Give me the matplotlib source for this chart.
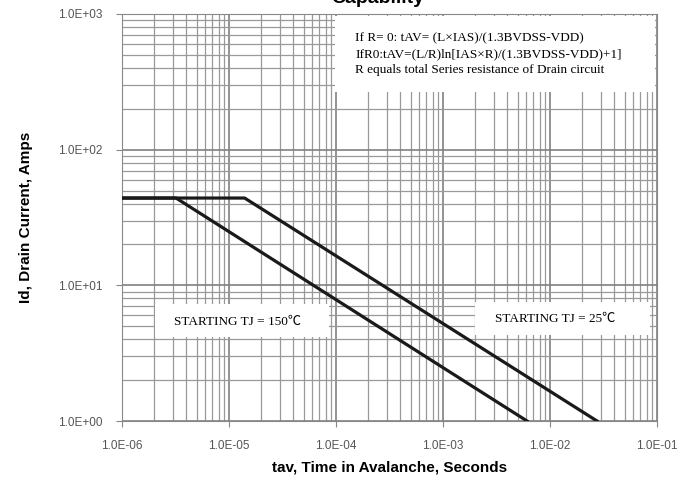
import numpy as np
import matplotlib.pyplot as plt
from matplotlib.ticker import LogLocator, FuncFormatter, NullFormatter

# avalanche curves (time in s, current in A)
t_25 = [1e-6, 1.4e-5, 2.75e-2]
i_25 = [44, 44, 1.0]
t_150 = [1e-6, 3.2e-6, 6.1e-3]
i_150 = [44, 44, 1.0]

x_ticks = [1e-6, 1e-5, 1e-4, 1e-3, 1e-2, 1e-1]
y_ticks = [1e0, 1e1, 1e2, 1e3]

fig = plt.figure(figsize=(6.98, 4.79), dpi=100)
ax = fig.add_axes([122 / 698, 1 - 421 / 479, 535 / 698, 407 / 479])

ax.set_xscale('log')
ax.set_yscale('log')
ax.set_xlim(1e-6, 1e-1)
ax.set_ylim(1e0, 1e3)

ax.xaxis.set_minor_locator(LogLocator(base=10, subs=np.arange(2, 10), numticks=20))
ax.yaxis.set_minor_locator(LogLocator(base=10, subs=np.arange(2, 10), numticks=20))

fmt = FuncFormatter(lambda v, p: f"{v:.1E}")
ax.set_xticks(x_ticks)
ax.set_yticks(y_ticks)
ax.xaxis.set_major_formatter(fmt)
ax.yaxis.set_major_formatter(fmt)
ax.xaxis.set_minor_formatter(NullFormatter())
ax.yaxis.set_minor_formatter(NullFormatter())

ax.grid(which='major', color='#808080', lw=1.2)
ax.grid(which='minor', color='#999999', lw=0.9)
ax.tick_params(which='minor', length=0)
ax.tick_params(which='major', length=4, color='#888888', labelcolor='#555555',
               labelsize=8.5)
ax.tick_params(axis='x', pad=10)
ax.tick_params(axis='y', pad=10)
for s in ax.spines.values():
    s.set_color('#888888')

ax.plot(t_25, i_25, color='#1a1a1a', lw=2.3, zorder=3)
ax.plot(t_150, i_150, color='#1a1a1a', lw=2.3, zorder=3)

serif = 'Liberation Serif'


# white annotation boxes (pixel coords of the figure)
def white_box(x0, y0, x1, y1):
    r = plt.Rectangle((x0 / 698, 1 - y1 / 479), (x1 - x0) / 698, (y1 - y0) / 479,
                      transform=fig.transFigure, facecolor='white', edgecolor='none',
                      zorder=4)
    fig.add_artist(r)


white_box(335, 16, 655, 92)
white_box(155, 304, 329, 337)
white_box(475, 302, 650, 335)

fig.text(355 / 698, 1 - 38 / 479, "If R= 0: tAV= (L\u00d7IAS)/(1.3BVDSS-VDD)",
         family=serif, fontsize=9.5, va='center', zorder=5)
fig.text(355 / 698, 1 - 54 / 479, "IfR0:tAV=(L/R)ln[IAS\u00d7R)/(1.3BVDSS-VDD)+1]",
         family=serif, fontsize=9.5, va='center', zorder=5)
fig.text(355 / 698, 1 - 70 / 479, "R equals total Series resistance of Drain circuit",
         family=serif, fontsize=9.5, va='center', zorder=5)
fig.text(238 / 698, 1 - 322 / 479, "STARTING TJ = 150\u2103", family=[serif, 'Noto Sans CJK SC'],
         fontsize=9.5, ha='center', va='center', zorder=5)
fig.text(555 / 698, 1 - 319 / 479, "STARTING TJ = 25\u2103", family=[serif, 'Noto Sans CJK SC'],
         fontsize=9.5, ha='center', va='center', zorder=5)

ax.set_xlabel("tav, Time in Avalanche, Seconds", fontsize=11, fontweight='bold',
              family='Liberation Sans', labelpad=6)
ax.set_ylabel("Id, Drain Current, Amps", fontsize=11, fontweight='bold',
              family='Liberation Sans', labelpad=18)
for lab in ax.get_xticklabels() + ax.get_yticklabels():
    lab.set_family('Liberation Sans')

fig.text(378 / 698, 1 - 7 / 479, "Capability", fontsize=14, fontweight='bold',
         family='Liberation Sans', ha='center', va='bottom')

fig.savefig('out.png', dpi=100)
